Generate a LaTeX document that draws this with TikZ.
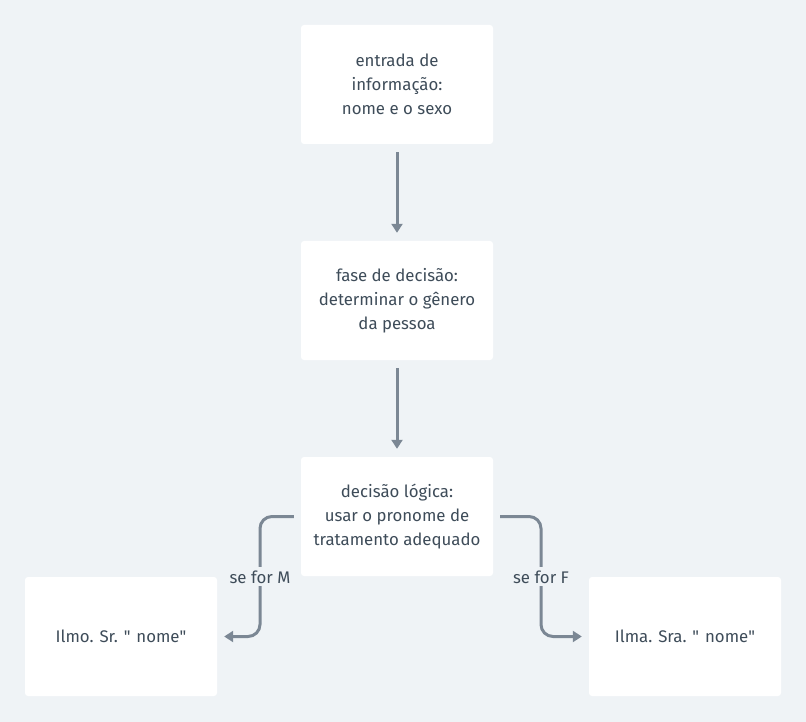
\documentclass[tikz,border=0pt]{standalone}
\usepackage{fontspec}
\setmainfont{Fira Sans}
\usetikzlibrary{arrows.meta, positioning}
\definecolor{bgcol}{HTML}{EFF3F6}
\definecolor{linecol}{HTML}{7B8794}
\definecolor{txtcol}{HTML}{3E4C59}

\begin{document}
\begin{tikzpicture}[x=1pt, y=-1pt,
    box/.style={rectangle, fill=white, rounded corners=3pt, minimum width=192pt, minimum height=119pt,
        align=center, text=txtcol, font=\fontsize{16.8}{24}\selectfont},
    flow/.style={-{Triangle[length=9pt, width=11pt]}, line width=3pt, linecol},
    branch/.style={flow, rounded corners=12pt},
    lbl/.style={fill=bgcol, text=txtcol, font=\fontsize{16.8}{18}\selectfont, inner sep=3pt}]
    % background
    \fill[bgcol] (0,0) rectangle (806,722);
    \useasboundingbox (0,0) rectangle (806,722);

    % main column
    \node[box] (entrada) at (397, 84.5) {entrada de\\informação:\\nome e o sexo};
    \node[box] (fase) at (397, 300.5) {fase de decisão:\\determinar o gênero\\da pessoa};
    \node[box] (logica) at (397, 516.5) {decisão lógica:\\usar o pronome de\\tratamento adequado};

    % results
    \node[box] (sr) at (121, 636.5) {Ilmo. Sr. \textquotedbl{} nome\textquotedbl};
    \node[box] (sra) at (685, 636.5) {Ilma. Sra. \textquotedbl{} nome\textquotedbl};

    % coordinates for branch corners
    \coordinate (mL) at (260, 517);
    \coordinate (mR) at (541, 517);

    \draw[flow] ([yshift=-8pt]entrada.south) -- ([yshift=8pt]fase.north);
    \draw[flow] ([yshift=-8pt]fase.south) -- ([yshift=8pt]logica.north);

    % branches
    \draw[branch] ([xshift=-7pt]logica.west) -| (mL |- sr.east) -- ([xshift=7pt]sr.east);
    \draw[branch] ([xshift=7pt]logica.east) -| (mR |- sra.west) -- ([xshift=-7pt]sra.west);
    \node[lbl] (seM) at (mL |- sr.north) {se for M};
    \node[lbl] (seF) at (mR |- sra.north) {se for F};
\end{tikzpicture}
\end{document}
